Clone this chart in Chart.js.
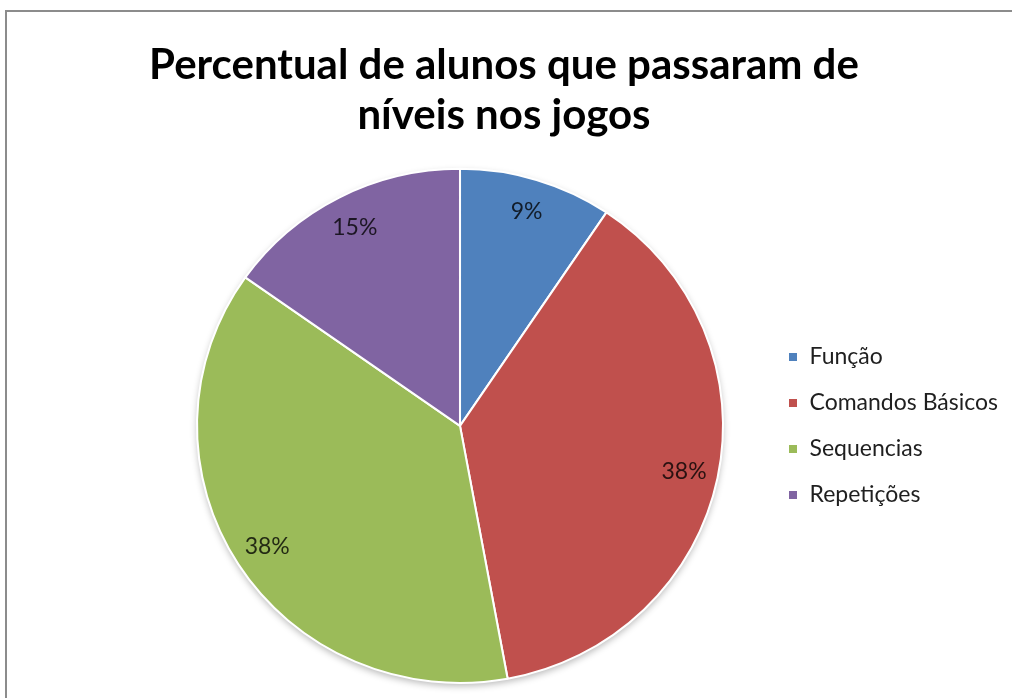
<!DOCTYPE html>
<html>
<head>
<meta charset="utf-8">
<script src="https://cdn.jsdelivr.net/npm/chart.js@4/dist/chart.umd.min.js"></script>
<style>
  html, body { margin: 0; padding: 0; background: #ffffff; overflow: hidden; }
  #wrap { position: absolute; left: 0; top: 0; width: 1012px; height: 698px; }
  #frame { position: absolute; left: 5px; top: 10px; width: 1100px; height: 800px;
           border-left: 2px solid #8c8c8c; border-top: 2px solid #8c8c8c; pointer-events: none; }
</style>
</head>
<body>
<div id="wrap"><canvas id="c" width="1012" height="698"></canvas></div>
<div id="frame"></div>
<script>
const titleLines = ['Percentual de alunos que passaram de', 'níveis nos jogos'];
const categories = ['Função', 'Comandos Básicos', 'Sequencias', 'Repetições'];
const shares = [9.4, 37.7, 37.7, 15.2];
const sliceColors = ['#4F81BD', '#C0504D', '#9BBB59', '#8064A2'];

const FONT = 'Lato, "Open Sans", sans-serif';
const PIE_CENTER_X = 460;
const X_STRETCH = 1.023;

const shiftArea = {
  id: 'shiftArea',
  afterLayout(chart) {
    const a = chart.chartArea;
    a.left = 2 * PIE_CENTER_X - a.right;
    a.width = a.right - a.left;
  }
};

const stretch = {
  id: 'stretch',
  beforeDatasetsDraw(chart) {
    const ctx = chart.ctx;
    const arc = chart.getDatasetMeta(0).data[0];
    if (!arc) return;
    const p = arc.getProps(['x', 'y', 'outerRadius'], true);
    ctx.save();
    ctx.translate(p.x, p.y);
    ctx.scale(X_STRETCH, 1);
    ctx.translate(-p.x, -p.y);
    ctx.save();
    ctx.shadowColor = 'rgba(0,0,0,0.28)';
    ctx.shadowBlur = 7;
    ctx.shadowOffsetY = 3;
    ctx.fillStyle = '#ffffff';
    ctx.beginPath();
    ctx.arc(p.x, p.y, p.outerRadius, 0, Math.PI * 2);
    ctx.fill();
    ctx.restore();
  },
  afterDatasetsDraw(chart) {
    chart.ctx.restore();
  }
};

const sliceLabels = {
  id: 'sliceLabels',
  afterDatasetsDraw(chart) {
    const ctx = chart.ctx;
    const meta = chart.getDatasetMeta(0);
    const vals = chart.data.datasets[0].data;
    const total = vals.reduce((s, v) => s + v, 0);
    ctx.save();
    ctx.font = '23px ' + FONT;
    ctx.fillStyle = 'rgba(0,0,0,0.78)';
    ctx.textAlign = 'center';
    ctx.textBaseline = 'middle';
    meta.data.forEach((arc, i) => {
      const p = arc.getProps(['x', 'y', 'startAngle', 'endAngle', 'outerRadius'], true);
      const mid = (p.startAngle + p.endAngle) / 2;
      const r = p.outerRadius * 0.87;
      const txt = Math.round(vals[i] / total * 100) + '%';
      ctx.fillText(txt, p.x + Math.cos(mid) * r * X_STRETCH, p.y + Math.sin(mid) * r);
    });
    ctx.restore();
  }
};

new Chart(document.getElementById('c'), {
  type: 'pie',
  data: {
    labels: categories,
    datasets: [{
      data: shares,
      backgroundColor: sliceColors,
      borderColor: '#ffffff',
      borderWidth: 2
    }]
  },
  options: {
    responsive: false,
    animation: false,
    layout: { padding: { left: 0, right: 4, top: 40, bottom: 14 } },
    plugins: {
      title: {
        display: true,
        text: titleLines,
        color: '#000000',
        font: { family: FONT, size: 42, weight: 'bold', lineHeight: 1.2 },
        padding: { top: 0, bottom: 27 }
      },
      legend: {
        position: 'right',
        align: 'center',
        fullSize: false,
        labels: {
          boxWidth: 10,
          boxHeight: 10,
          padding: 23,
          color: '#1f1f1f',
          font: { family: FONT, size: 23 }
        }
      },
      tooltip: { enabled: false }
    }
  },
  plugins: [shiftArea, stretch, sliceLabels]
});
</script>
</body>
</html>
